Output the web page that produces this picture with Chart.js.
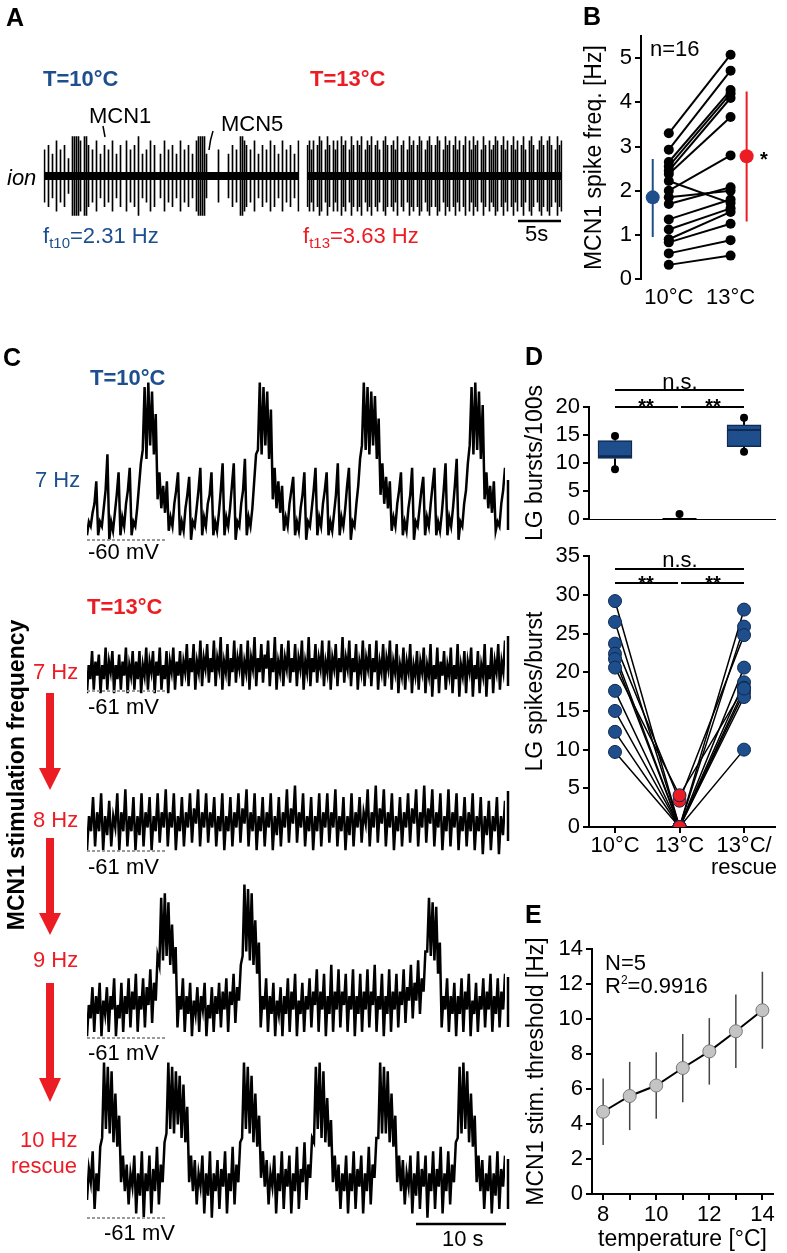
<!DOCTYPE html>
<html>
<head>
<meta charset="utf-8">
<script src="https://cdn.jsdelivr.net/npm/chart.js@4.4.1/dist/chart.umd.min.js"></script>
<style>
body { margin: 0; background: #fff; }
#fig { position: relative; width: 787px; height: 1253px; overflow: hidden;
       font-family: "Liberation Sans", Arial, sans-serif; color: #000; }
#fig canvas { position: absolute; }
.t { position: absolute; white-space: nowrap; font-size: 22px; line-height: 22px; }
.b { font-weight: bold; }
.blue { color: #1d4f8f; }
.red { color: #ec1c24; }
.lab { position: absolute; font-weight: bold; font-size: 25px; line-height: 25px; }
sub { font-size: 15px; vertical-align: -5px; line-height: 0; }
sup { font-size: 12px; vertical-align: 9px; line-height: 0; }
#deco { position: absolute; left: 0; top: 0; }
</style>
</head>
<body>
<div id="fig">
  <!-- A -->
  <canvas id="ion10" width="257" height="92" style="left:43px;top:130px"></canvas>
  <canvas id="ion13" width="257" height="92" style="left:306px;top:130px"></canvas>
  <!-- B -->
  <canvas id="chartB" width="206" height="294" style="left:581px;top:20px"></canvas>
  <!-- C -->
  <canvas id="c1" width="418" height="164" style="left:87px;top:378px"></canvas>
  <canvas id="c2" width="418" height="72" style="left:87px;top:630px"></canvas>
  <canvas id="c3" width="418" height="78" style="left:87px;top:778px"></canvas>
  <canvas id="c4" width="418" height="163" style="left:87px;top:880px"></canvas>
  <canvas id="c5" width="418" height="162" style="left:87px;top:1058px"></canvas>
  <!-- D -->
  <canvas id="chartD1" width="265" height="175" style="left:522px;top:370px"></canvas>
  <canvas id="chartD2" width="265" height="340" style="left:522px;top:540px"></canvas>
  <!-- E -->
  <canvas id="chartE" width="264" height="328" style="left:523px;top:925px"></canvas>

  <svg id="deco" width="787" height="1253">
    <g stroke="#000" fill="none">
      <line x1="103" y1="126" x2="105" y2="137" stroke-width="1.5"/>
      <path d="M213,131 Q210,140 209,150" stroke-width="1.5"/>
      <line x1="518" y1="221" x2="561" y2="221" stroke-width="2.5"/>
      <line x1="508" y1="480" x2="508" y2="530" stroke-width="2.5"/>
      <line x1="508" y1="636" x2="508" y2="686" stroke-width="2.5"/>
      <line x1="508" y1="791" x2="508" y2="841" stroke-width="2.5"/>
      <line x1="508" y1="977" x2="508" y2="1027" stroke-width="2.5"/>
      <line x1="508" y1="1159" x2="508" y2="1209" stroke-width="2.5"/>
      <line x1="416" y1="1224" x2="506" y2="1224" stroke-width="2.5"/>
      <line x1="615" y1="390" x2="744" y2="390" stroke-width="2"/>
      <line x1="615" y1="407" x2="678" y2="407" stroke-width="2"/>
      <line x1="681" y1="407" x2="744" y2="407" stroke-width="2"/>
      <line x1="615" y1="569" x2="744" y2="569" stroke-width="2"/>
      <line x1="615" y1="583" x2="678" y2="583" stroke-width="2"/>
      <line x1="681" y1="583" x2="744" y2="583" stroke-width="2"/>
    </g>
    <g stroke="#9a9a9a" stroke-width="2" stroke-dasharray="3,2">
      <line x1="87" y1="540" x2="167" y2="540"/>
      <line x1="87" y1="691" x2="167" y2="691"/>
      <line x1="87" y1="851" x2="167" y2="851"/>
      <line x1="87" y1="1038" x2="167" y2="1038"/>
      <line x1="87" y1="1218" x2="167" y2="1218"/>
    </g>
    <g fill="#ec1c24">
      <polygon points="46,693 54,693 54,768 61,768 50,790 39,768 46,768"/>
      <polygon points="46,838 54,838 54,913 61,913 50,935 39,913 46,913"/>
      <polygon points="46,983 54,983 54,1078 61,1078 50,1102 39,1078 46,1078"/>
    </g>
  </svg>

  <div class="lab" style="left:6px;top:5px">A</div>
  <div class="lab" style="left:583px;top:4px">B</div>
  <div class="lab" style="left:3px;top:345px">C</div>
  <div class="lab" style="left:525px;top:344px">D</div>
  <div class="lab" style="left:525px;top:902px">E</div>

  <div class="t b blue" style="left:43px;top:68px">T=10°C</div>
  <div class="t b red" style="left:310px;top:68px">T=13°C</div>
  <div class="t" style="left:89px;top:105px">MCN1</div>
  <div class="t" style="left:221px;top:113px">MCN5</div>
  <div class="t" style="left:7px;top:167px;font-style:italic">ion</div>
  <div class="t blue" style="left:43px;top:225px">f<sub>t10</sub>=2.31 Hz</div>
  <div class="t red" style="left:303px;top:225px">f<sub>t13</sub>=3.63 Hz</div>
  <div class="t" style="left:525px;top:223px">5s</div>

  <div class="t" style="left:650px;top:38px">n=16</div>
  <div class="t b" style="left:760px;top:148px;font-size:20px">*</div>

  <div class="t b blue" style="left:90px;top:367px">T=10°C</div>
  <div class="t blue" style="left:35px;top:469px">7 Hz</div>
  <div class="t" style="left:88px;top:541px">-60 mV</div>
  <div class="t b red" style="left:87px;top:596px">T=13°C</div>
  <div class="t red" style="left:33px;top:661px">7 Hz</div>
  <div class="t" style="left:88px;top:696px">-61 mV</div>
  <div class="t red" style="left:33px;top:809px">8 Hz</div>
  <div class="t" style="left:88px;top:856px">-61 mV</div>
  <div class="t red" style="left:33px;top:949px">9 Hz</div>
  <div class="t" style="left:88px;top:1042px">-61 mV</div>
  <div class="t red" style="left:20px;top:1129px">10 Hz</div>
  <div class="t red" style="left:11px;top:1155px">rescue</div>
  <div class="t" style="left:104px;top:1222px">-61 mV</div>
  <div class="t" style="left:442px;top:1228px">10 s</div>
  <div class="t b" style="left:16px;top:775px;font-size:23px;transform:translate(-50%,-50%) rotate(-90deg)">MCN1 stimulation frequency</div>

  <div class="t" style="left:630px;top:371px;width:100px;text-align:center">n.s.</div>
  <div class="t b" style="left:596px;top:395px;width:100px;text-align:center;font-size:20px">**</div>
  <div class="t b" style="left:663px;top:395px;width:100px;text-align:center;font-size:20px">**</div>
  <div class="t" style="left:630px;top:549px;width:100px;text-align:center">n.s.</div>
  <div class="t b" style="left:596px;top:572px;width:100px;text-align:center;font-size:20px">**</div>
  <div class="t b" style="left:663px;top:572px;width:100px;text-align:center;font-size:20px">**</div>

  <div class="t" style="left:605px;top:952px">N=5</div>
  <div class="t" style="left:605px;top:975px">R<sup>2</sup>=0.9916</div>
</div>

<script>
// A: ion recordings, spike amplitude per time bin (0 = no spike)
const ion10 = "6070508060704099 9980997060805070 6080507008060709 0506080700508060 " +
              "7050806070508999 9500000600005070 6099870608050706 0807050806070508";
const ion13 = "7868079806970868 0978069708790687 9078608970786907 8069780798068970 " +
              "7980697807968079 0869780697086798 0796807968079608 9706897089706978";

// B: MCN1 spike frequency [Hz], paired recordings
const tempLabels = ["10°C", "13°C"];
const freq10 = [3.3, 2.93, 2.65, 2.55, 2.45, 2.38, 2.22, 2.0, 1.85, 1.7, 1.35, 1.12, 0.9, 0.83, 0.58, 0.32];
const freq13 = [5.08, 4.72, 4.28, 4.2, 4.1, 3.67, 1.72, 2.8, 2.0, 2.08, 1.8, 1.6, 1.52, 1.25, 0.88, 0.53];
const freqMean = [1.85, 2.78];
const freqLo = [0.95, 1.3];
const freqHi = [2.72, 4.25];

// C: LG membrane potential, one base-36 level per sample
const lg10_7 = "14368d 1437bj 0426af 1538bg 1437ch kyizlxjs 9f7c6d " +
  "2538bf 1427ae 0437bg 1538af 1426bh 1537ch 0438bi 1537dj kzjylxit 9g7d6c " +
  "2538be 1427af 0437bg 1538bf 1426ah 1537cg 0438ci lzkyjxlwir ah8e7d " +
  "2538bf 1427ag 0437be 1538cg 1426bh 1537ci 0438bh lyjzkxiu 9f7c6d 2438bg";
const lg13_7 = "2a6e 3b7d 2a6f 3b8e 2a6d 3b7f 2a7e 3b6e 2a7f 3b8e 2b7f 3a6e 2b8f 3b7e 4b8g " +
  "4c8g 3b8h 4c9g 5c8h 4c9i 3b8g 4c8h 5c9g 4b8h 3c9i 4c8g 5d9h 4c8i 3b8g 4c9h " +
  "5c8g 4c9h 3b8i 4c8g 5c9h 4b8h 3c9g 4c8i 5c9h 4c8g 3b8h 4c9g 4c8h 3b8g 4c9h " +
  "3b8g 2a7f 3b8g 2a7e 3b8f 2a7g 1a6f 2b7e 3a7f 2a6g 1a7e 2b8f 1a6e 2a7g 1a6f 2b8g 3b8h";
const lg13_8 = "1a6f 2b6g 1a5e 2a7g 1b6h 2a6f 1a5g 2b7f 1a6g 3b7h 2b7g 1a6f 2b7g " +
  "3c8h 2b7g 3b7f 2a6g 1a6f 2b7g 3c8h 2b6g 1a6f 2b7g 1a5f 2b7h 3c8i " +
  "3b7g 2a6f 1a6g 2b7g 3b7h 2a6f 1a5g 2b7f 3b8h 2b7i 3c8h 2b7g 1a6f " +
  "2b7g 3c8h 2b7i 3c8h 2b7g 1a6h 2b7g 1a6f 2b6g 1a6f 0a5e 1a6f 0a5e";
const lg13_9 = "185c 2a6d 196c 2a7e 185d 2a6e 3b7f 2a7e 3c8g 4d9j hwixjvhqfl " +
  "3a7e 2a6d 196c 2a7d 185c 2a6d 3b7e 2b8f 4c9h jzkyixhrfm " +
  "3a7e 2a6d 196c 1a6e 2b7f 196d 2a7e 3b8g 2b7f 1a6h 2b7g 3b8f 2a7g 1a6f 2b7g 3b8h " +
  "2a7f 1a6g 2b7f 3b8g 4c9h 5d9i 6ebk kwjviufm " +
  "3a7e 2a6d 1a6e 2b7f 196d 2a7e 3b7f 2a6e 3b7f";
const lg13_10 = "4b8f 2a6g izkyjxhsgn 8e6c 3a7e 1a5f 0a6e 1b6g 3c8h jzkyjxlwiuhp " +
  "8e6d 3a7e 1a5f 0a6d 2b7f 1a6g 3c8h izkyjwhsgn 9f7d 3a7e 1a6f 2b7e 1a6g 2b8h 4c9i " +
  "hykzixhrgm 8e6c 2a6e 1a6f 2b7e 1a6g 3c9i izjyjxhsgn " +
  "8e6d 3a7e 1a5f 2b7e 0a6f 2b7g 1a6f 3c8h iyjzkxhsgn 8e6d 2a6e 1a5f 2b7e";

// D: LG bursts/100s (box plot) and LG spikes/burst (paired)
const dCats = ["10°C", "13°C", ["13°C/", "rescue"]];
const boxLo = [10.8, 0, 12.9];
const boxHi = [14.0, 0, 16.8];
const boxMed = [11.2, 0, 15.9];
const whiskLo = [8.9, 0, 12.0];
const whiskHi = [14.8, 0.9, 18.1];
const spikes10 = [29.2, 26.5, 23.7, 22.4, 21.7, 20.6, 17.6, 15.0, 12.3, 9.7];
const spikes13 = [0, 0, 3.4, 0, 0, 4.1, 0, 0, 0, 0];
const spikesRes = [28.1, 25.9, 24.8, 20.6, 18.7, 18.0, 17.4, 16.8, 10.0, 17.9];

// E: MCN1 stimulation threshold vs temperature
const temps = [8, 9, 10, 11, 12, 13, 14];
const thrMean = [4.7, 5.6, 6.2, 7.2, 8.15, 9.3, 10.5];
const thrSd = [1.9, 1.95, 1.9, 1.95, 1.9, 2.1, 2.2];

const BLUE = '#1f4e8c', RED = '#ec1c24';
const TICK = 22, TITLE = 23;

Chart.defaults.font.family = "'Liberation Sans', Arial, sans-serif";
Chart.defaults.color = '#000';
Chart.defaults.animation = false;
Chart.defaults.responsive = false;
Chart.defaults.devicePixelRatio = 1;
Chart.defaults.events = [];
Chart.defaults.plugins.legend.display = false;
Chart.defaults.plugins.tooltip.enabled = false;

function levels(str) {
  return str.replace(/ /g, '').split('').map(c => parseInt(c, 36));
}

function ionTrace(id, str) {
  const amps = str.replace(/ /g, '').split('').map(Number);
  new Chart(document.getElementById(id), {
    data: {
      labels: amps.map((a, i) => i),
      datasets: [
        { type: 'bar', data: amps.map(a => a ? [-a, a] : null), backgroundColor: '#000', barThickness: 1, order: 1 },
        { type: 'line', data: amps.map(() => 0), borderColor: '#000', borderWidth: 8, pointRadius: 0, order: 2 }
      ]
    },
    options: {
      layout: { padding: { left: 0.5, right: 0.5, top: 0, bottom: 0 } },
      scales: { x: { display: false }, y: { display: false, min: -10.5, max: 10.5 } }
    }
  });
}

function lgTrace(id, str, top) {
  const v = levels(str);
  new Chart(document.getElementById(id), {
    type: 'line',
    data: { labels: v.map((a, i) => i), datasets: [{ data: v, borderColor: '#000', borderWidth: 2.5, pointRadius: 0, tension: 0 }] },
    options: { layout: { padding: 0 }, scales: { x: { display: false }, y: { display: false, min: -0.5, max: top } } }
  });
}

function yAxis(title, max, step, width) {
  return {
    min: 0, max: max,
    afterFit: s => { s.width = width; },
    afterBuildTicks: s => { s.ticks = s.ticks.filter(t => Math.abs(t.value / step - Math.round(t.value / step)) < 1e-6); },
    ticks: { stepSize: step, includeBounds: false, autoSkip: false, font: { size: TICK }, padding: 3 },
    grid: { display: true, drawOnChartArea: false, drawTicks: true, tickLength: 6, color: '#000', lineWidth: 2 },
    border: { display: true, color: '#000', width: 2 },
    title: { display: true, text: title, font: { size: TITLE }, padding: { top: 0, bottom: 0 } }
  };
}

ionTrace('ion10', ion10);
ionTrace('ion13', ion13);

lgTrace('c1', lg10_7, 36);
lgTrace('c2', lg13_7, 20);
lgTrace('c3', lg13_8, 20);
lgTrace('c4', lg13_9, 36);
lgTrace('c5', lg13_10, 36);

// B
const meanShift = 0.26;
const bSets = freq10.map((v, i) => ({
  data: [{ x: 1, y: v }, { x: 2, y: freq13[i] }],
  borderColor: '#000', borderWidth: 2, pointRadius: 5, pointBackgroundColor: '#000', pointBorderWidth: 0, order: 3
}));
freqMean.forEach((m, i) => {
  const x = i === 0 ? 1 - meanShift : 2 + meanShift;
  const col = i === 0 ? BLUE : RED;
  bSets.push({ data: [{ x: x, y: freqLo[i] }, { x: x, y: freqHi[i] }], borderColor: col, borderWidth: 2, pointRadius: 0, order: 2 });
  bSets.push({ data: [{ x: x, y: m }], pointRadius: 7, pointBackgroundColor: col, pointBorderWidth: 0, showLine: false, order: 1 });
});
new Chart(document.getElementById('chartB'), {
  type: 'line',
  data: { datasets: bSets },
  options: {
    layout: { padding: { top: 13, right: 0, left: 0, bottom: 0 } },
    scales: {
      x: {
        type: 'linear', min: 0.55, max: 2.8,
        afterFit: s => { s.height = 35; },
        afterBuildTicks: s => { s.ticks = tempLabels.map((c, i) => ({ value: i + 1 })); },
        ticks: { callback: v => tempLabels[v - 1], font: { size: TICK }, padding: -2, maxRotation: 0, autoSkip: false },
        grid: { display: false }, border: { display: false }
      },
      y: yAxis('MCN1 spike freq. [Hz]', 5.5, 1, 60)
    }
  }
});

// D top: box plot
const boxPlugin = {
  id: 'boxParts',
  afterDatasetsDraw(chart) {
    const ctx = chart.ctx, y = chart.scales.y;
    chart.getDatasetMeta(0).data.forEach((el, i) => {
      const half = el.width / 2;
      ctx.save();
      ctx.strokeStyle = '#000';
      ctx.fillStyle = '#000';
      ctx.lineWidth = 2;
      [[boxHi[i], whiskHi[i]], [boxLo[i], whiskLo[i]]].forEach(([from, to]) => {
        if (to === from) return;
        ctx.beginPath();
        ctx.moveTo(el.x, y.getPixelForValue(from));
        ctx.lineTo(el.x, y.getPixelForValue(to));
        ctx.stroke();
        ctx.beginPath();
        ctx.arc(el.x, y.getPixelForValue(to), 4, 0, Math.PI * 2);
        ctx.fill();
      });
      ctx.strokeStyle = boxHi[i] === boxLo[i] ? '#000' : '#0e2a52';
      ctx.beginPath();
      ctx.moveTo(el.x - half, y.getPixelForValue(boxMed[i]));
      ctx.lineTo(el.x + half, y.getPixelForValue(boxMed[i]));
      ctx.stroke();
      ctx.restore();
    });
  }
};
new Chart(document.getElementById('chartD1'), {
  type: 'bar',
  data: {
    datasets: [{
      data: boxLo.map((lo, i) => ({ x: i + 1, y: [lo, boxHi[i]] })),
      backgroundColor: BLUE, borderColor: '#0e2a52', borderWidth: 1.5, borderSkipped: false, barThickness: 34
    }]
  },
  options: {
    layout: { padding: { top: 37, right: 12, left: 0, bottom: 26 } },
    scales: {
      x: {
        type: 'linear', min: 0.597, max: 3.48, offset: false,
        afterFit: s => { s.height = 0; },
        ticks: { display: false }, grid: { display: false, drawTicks: false },
        border: { display: true, dash: [1, 2], color: '#000', width: 1 }
      },
      y: yAxis('LG bursts/100s', 20, 5, 67)
    }
  },
  plugins: [boxPlugin]
});

// D bottom: paired spikes per burst
const dSets = spikes10.map((v, i) => ({
  data: [{ x: 1, y: v }, { x: 2, y: spikes13[i] }, { x: 3, y: spikesRes[i] }],
  borderColor: '#000', borderWidth: 1.5, pointRadius: 0, order: 2
}));
const dPts = [], dCols = [];
[spikes10, spikes13, spikesRes].forEach((arr, k) => arr.forEach(v => {
  dPts.push({ x: k + 1, y: v });
  dCols.push(k === 1 ? RED : BLUE);
}));
dSets.push({ data: dPts, showLine: false, pointRadius: 6.5, pointBackgroundColor: dCols, pointBorderColor: '#0e2a52', pointBorderWidth: 1, order: 1 });
new Chart(document.getElementById('chartD2'), {
  type: 'line',
  data: { datasets: dSets },
  options: {
    layout: { padding: { top: 15, right: 12, left: 0, bottom: 0 } },
    scales: {
      x: {
        type: 'linear', min: 0.597, max: 3.48,
        afterFit: s => { s.height = 53; },
        afterBuildTicks: s => { s.ticks = dCats.map((c, i) => ({ value: i + 1 })); },
        ticks: { callback: v => dCats[v - 1], font: { size: TICK, lineHeight: 1.0 }, padding: 2, maxRotation: 0, autoSkip: false },
        grid: { display: true, drawOnChartArea: false, drawTicks: true, tickLength: 6, color: '#000', lineWidth: 2 },
        border: { display: true, color: '#000', width: 2 }
      },
      y: yAxis('LG spikes/burst', 35, 5, 67)
    }
  }
});

// E: threshold vs temperature
const eSets = temps.map((t, i) => ({
  data: [{ x: t, y: thrMean[i] - thrSd[i] }, { x: t, y: thrMean[i] + thrSd[i] }],
  borderColor: '#444', borderWidth: 1.5, pointRadius: 0, order: 2
}));
eSets.push({
  data: temps.map((t, i) => ({ x: t, y: thrMean[i] })),
  borderColor: '#000', borderWidth: 2, pointRadius: 6.5, pointBackgroundColor: '#c4c4c4',
  pointBorderColor: '#777', pointBorderWidth: 1, order: 1
});
new Chart(document.getElementById('chartE'), {
  type: 'line',
  data: { datasets: eSets },
  options: {
    layout: { padding: { top: 24, right: 14, left: 0, bottom: 0 } },
    scales: {
      x: {
        type: 'linear', min: 7.58, max: 14.4,
        afterFit: s => { s.height = 59; },
        afterBuildTicks: s => { s.ticks = s.ticks.filter(t => Number.isInteger(t.value)); },
        ticks: { stepSize: 1, includeBounds: false, callback: v => (v % 2 === 0 ? String(v) : ''), font: { size: TICK }, padding: 2, maxRotation: 0, autoSkip: false },
        grid: { display: true, drawOnChartArea: false, drawTicks: true, tickLength: 6, color: '#000', lineWidth: 2 },
        border: { display: true, color: '#000', width: 2 },
        title: { display: true, text: 'temperature [°C]', font: { size: TITLE }, padding: { top: 0, bottom: 0 } }
      },
      y: yAxis('MCN1 stim. threshold [Hz]', 14, 2, 69)
    }
  }
});
</script>
</body>
</html>
